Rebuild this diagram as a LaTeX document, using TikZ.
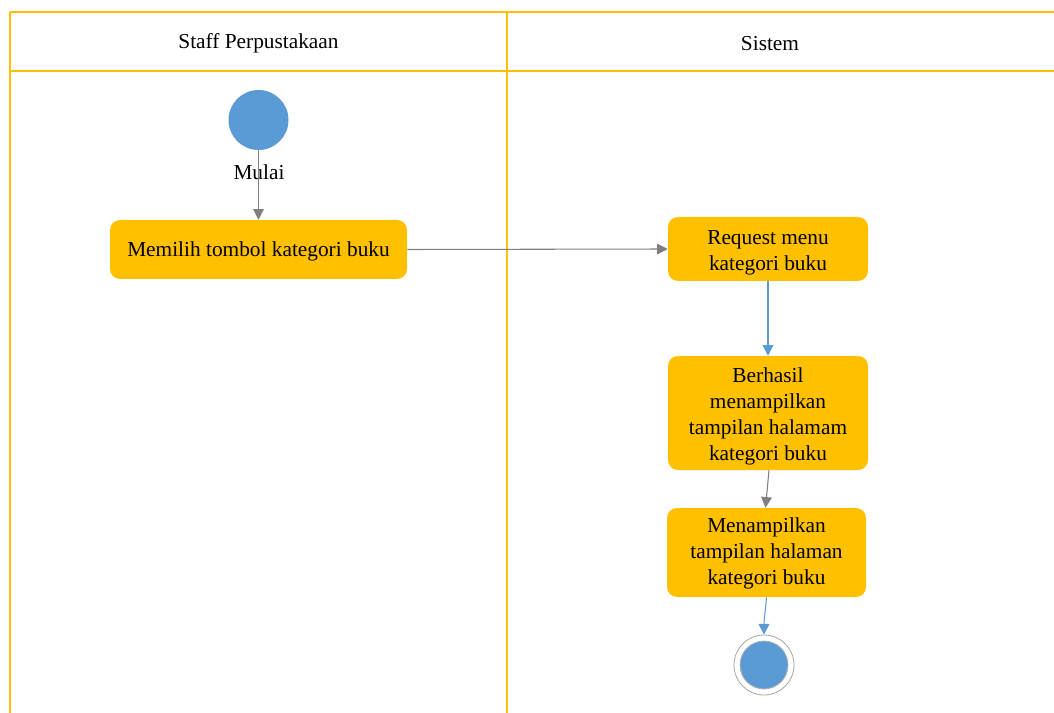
\documentclass[tikz,border=0pt]{standalone}
\usepackage{fontspec}
\setmainfont{Liberation Serif}
\usetikzlibrary{arrows.meta}
\definecolor{laneline}{HTML}{FFC000}
\definecolor{actfill}{HTML}{FFC000}
\definecolor{nodeblue}{HTML}{5B9BD5}
\definecolor{flowgray}{HTML}{7F7F7F}
\begin{document}
\begin{tikzpicture}[x=0.75pt,y=-0.75pt,
  lane/.style={draw=laneline,line width=1.2pt},
  action/.style={fill=actfill,draw=none,rounded corners=7.5pt,inner sep=0pt},
  actiontext/.style={align=center,font=\fontsize{16}{19.5}\selectfont,inner sep=0pt,yshift=-1.5pt},
  flow/.style={draw=flowgray,line width=0.8pt,-{Triangle[length=8pt,width=8pt]}},
  blueflow/.style={draw=nodeblue,line width=0.8pt,-{Triangle[length=8pt,width=8pt]}},
  heading/.style={font=\fontsize{16}{19}\selectfont}]
\useasboundingbox (0,0) rectangle (1054,713);
% swimlane frame
\draw[lane,line width=1.5pt] (10,12) -- (1054,12);
\draw[lane] (10,12) -- (10,713);
\draw[lane] (507,12) -- (507,713);
\draw[lane] (10,71) -- (1054,71);
\node[heading] (lane1) at (258.5,43.5) {Staff Perpustakaan};
\node[heading] (lane2) at (770,43.5) {Sistem};
% start
\node[circle,fill=nodeblue,minimum size=45pt,inner sep=0pt] (start) at (258.5,120) {};
\node[font=\fontsize{16}{19}\selectfont,inner sep=1pt] (startlbl) at (259,172) {Mulai};
% actions
\node[action,minimum width=222.75pt,minimum height=44.25pt] (a1) at (258.5,249.5) {};
\node[actiontext] (t1) at (a1.center) {Memilih tombol kategori buku};
\node[action,minimum width=150pt,minimum height=48pt] (a2) at (768,249) {};
\node[actiontext,yshift=-1.5pt] (t2) at (a2.center) {Request menu\\kategori buku};
\node[action,minimum width=150pt,minimum height=85.5pt] (a3) at (768,413) {};
\node[actiontext,yshift=-1pt] (t3) at (a3.center) {Berhasil\\menampilkan\\tampilan halamam\\kategori buku};
\node[action,minimum width=149.25pt,minimum height=66.75pt] (a4) at (766.5,552.5) {};
\node[actiontext,yshift=1pt] (t4) at (a4.center) {Menampilkan\\tampilan halaman\\kategori buku};
% end
\node[circle,draw=flowgray!70,line width=0.6pt,minimum size=45pt,inner sep=0pt] (finish) at (764,665) {};
\node[circle,fill=nodeblue,draw=flowgray!60,line width=0.6pt,minimum size=36pt,inner sep=0pt] (finishin) at (764,665) {};
% flows
\draw[flow] (start.south) -- (a1.north);
\draw[flow] (a1.east) -- (a2.west);
\draw[blueflow] (a2.south) -- (a3.north);
\draw[flow] ([xshift=0.75pt]a3.south) -- ([xshift=-0.75pt]a4.north);
\draw[blueflow] (a4.south) to[out=-95,in=90] (finish.north);
\end{tikzpicture}
\end{document}
